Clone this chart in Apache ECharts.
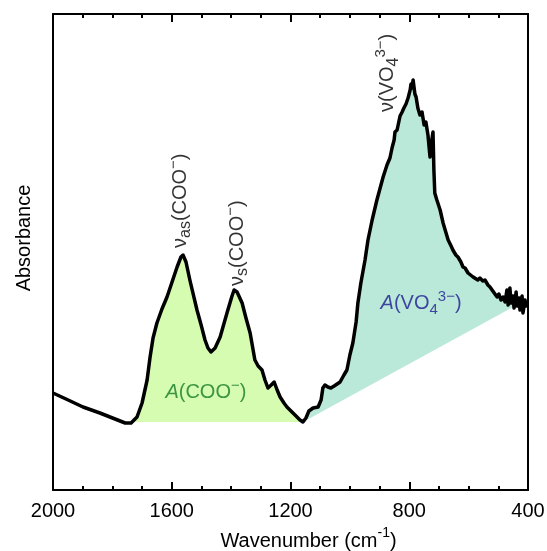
<!DOCTYPE html>
<html><head><meta charset="utf-8">
<script src="https://cdn.jsdelivr.net/npm/echarts@6/dist/echarts.min.js"></script>
<style>html,body{margin:0;padding:0;background:#fff}#c{width:547px;height:551px}</style>
</head><body><div id="c"></div>
<script>
// Spectrum (wavenumber in cm^-1, absorbance in arbitrary units)
const wavenumber = [2000,1949,1899,1842,1791,1757,1737,1717,1700,1683,1673,1663,1650,1633,1616,1599,1582,1569,1562,1552,1539,1515,1501,1488,1478,1468,1454,1437,1414,1397,1390,1380,1363,1350,1336,1320,1309,1296,1286,1276,1265,1255,1245,1235,1222,1212,1195,1178,1168,1158,1148,1138,1124,1107,1097,1091,1084,1074,1064,1053,1043,1033,1020,1010,1000,990,979,973,963,949,939,925,909,888,875,865,858,851,848,841,831,824,818,811,804,797,794,791,787,784,781,777,771,764,757,750,744,737,730,724,720,717,714,707,696,686,676,669,659,653,643,636,626,619,612,602,596,585,579,569,562,552,545,535,528,521,515,504,498,491,484,477,471,467,461,457,451,447,440,437,430,427,420,417,410,407,404];
const absorbance = [97,90,83,77,71,67,67,73,87,110,133,152,167,181,193,208,223,233,235,228,210,180,165,150,142,138,142,153,177,194,200,198,187,172,157,130,124,120,110,102,105,108,100,93,87,83,78,73,70,68,72,79,82,83,90,102,105,103,102,104,106,108,115,120,135,147,168,187,207,230,250,270,290,313,325,332,342,350,358,360,374,378,382,386,392,400,406,402,410,408,396,393,382,375,378,365,368,355,333,350,358,320,297,290,280,267,257,250,244,240,235,233,228,223,222,217,218,213,215,210,212,209,210,205,203,200,201,193,196,190,193,188,200,185,202,187,194,182,198,184,192,180,194,177,190,184,188];
const xTickLabels = [2000,1600,1200,800,400];
// integrated regions
const cooRange = [1158, 1737];
const cooBaseline = 68;
const vo4Range = [444, 1158];
const vo4BaseAtEnds = [184, 68]; // baseline value at vo4Range[0], vo4Range[1]
// annotations: [wavenumber, absorbance]
const labelVas = [1572, 242];
const labelVs = [1380, 204];
const labelVO4 = [873, 378];
const areaCOO = [1485, 98];
const areaVO4 = [760, 187];

const FONT = 'Liberation Sans, Arial, sans-serif';
const chart = echarts.init(document.getElementById('c'));

function vo4Base(w) {
  const t = (w - vo4Range[0]) / (vo4Range[1] - vo4Range[0]);
  return vo4BaseAtEnds[0] + t * (vo4BaseAtEnds[1] - vo4BaseAtEnds[0]);
}
function polygon(api, lo, hi, baseFn) {
  const pts = [];
  for (let i = 0; i < wavenumber.length; i++) {
    const w = wavenumber[i];
    if (w <= hi && w >= lo) pts.push(api.coord([w, Math.max(absorbance[i], baseFn(w))]));
  }
  pts.push(api.coord([lo, baseFn(lo)]));
  pts.push(api.coord([hi, baseFn(hi)]));
  return pts;
}

const richLabel = {
  n: {fontSize: 20, fontFamily: FONT, color: '#000', lineHeight: 28, verticalAlign: 'middle'},
  sub: {fontSize: 16, fontFamily: FONT, color: '#000', lineHeight: 16, verticalAlign: 'bottom'},
  sup: {fontSize: 15, fontFamily: FONT, color: '#000', lineHeight: 15, verticalAlign: 'top'}
};
function richColored(color) {
  return {
    i: {fontSize: 20, fontFamily: FONT, color: color, fontStyle: 'italic', lineHeight: 28, verticalAlign: 'middle'},
    n: {fontSize: 20, fontFamily: FONT, color: color, lineHeight: 28, verticalAlign: 'middle'},
    sub: {fontSize: 15, fontFamily: FONT, color: color, lineHeight: 15, verticalAlign: 'bottom'},
    sup: {fontSize: 15, fontFamily: FONT, color: color, lineHeight: 15, verticalAlign: 'top'}
  };
}

const tickStyle = {color: '#000', width: 2};
function xAxisDef(pos, showLabel) {
  return {
    type: 'value', position: pos, inverse: true, min: 400, max: 2000, interval: 400,
    axisLine: {show: true, onZero: false, lineStyle: {color: '#000', width: 2}},
    axisTick: {show: true, inside: true, length: 8, lineStyle: tickStyle},
    minorTick: {show: true, splitNumber: 4, length: 4, lineStyle: tickStyle},
    splitLine: {show: false}, minorSplitLine: {show: false},
    axisLabel: {show: showLabel, fontSize: 20, color: '#000', margin: 11, fontFamily: FONT,
      formatter: v => xTickLabels.includes(v) ? String(v) : ''}
  };
}
const xBottom = xAxisDef('bottom', true);
xBottom.name = '{n|Wavenumber (cm}{sup|-1}{n|)}';
xBottom.nameLocation = 'middle';
xBottom.nameGap = 34;
xBottom.nameTextStyle = {padding: [0, 0, 0, 36], rich: {
  n: {fontSize: 20, fontFamily: FONT, color: '#000', lineHeight: 26, verticalAlign: 'bottom'},
  sup: {fontSize: 14, fontFamily: FONT, color: '#000', lineHeight: 14, verticalAlign: 'top'}
}};
const xTop = xAxisDef('top', false);

function yAxisDef(pos) {
  return {
    type: 'value', position: pos, min: 0, max: 476,
    axisLine: {show: true, onZero: false, lineStyle: {color: '#000', width: 2}},
    axisTick: {show: false}, axisLabel: {show: false}, splitLine: {show: false}
  };
}
const yLeft = yAxisDef('left');
yLeft.name = 'Absorbance';
yLeft.nameLocation = 'middle';
yLeft.nameGap = 19;
yLeft.nameTextStyle = {fontSize: 20, fontFamily: FONT, color: '#000', padding: [0, 0, 0, 28]};
const yRight = yAxisDef('right');

function annot(pos, text, rotate, rich, align) {
  return {
    value: pos,
    label: {show: true, position: 'inside', formatter: text, rotate: rotate,
      align: align, verticalAlign: 'middle', rich: rich}
  };
}

chart.setOption({
  animation: false,
  grid: {left: 53, right: 19, top: 14, bottom: 61, containLabel: false, outerBoundsMode: 'none'},
  xAxis: [xBottom, xTop],
  yAxis: [yLeft, yRight],
  series: [
    {
      type: 'custom', xAxisIndex: 0, yAxisIndex: 0, clip: false, z: 1,
      data: [[cooRange[1], cooBaseline]],
      renderItem: (params, api) => ({
        type: 'polygon',
        shape: {points: polygon(api, cooRange[0], cooRange[1], () => cooBaseline)},
        style: {fill: '#d6fcb1'}
      })
    },
    {
      type: 'custom', xAxisIndex: 0, yAxisIndex: 0, clip: false, z: 1,
      data: [[vo4Range[1], vo4BaseAtEnds[1]]],
      renderItem: (params, api) => ({
        type: 'polygon',
        shape: {points: polygon(api, vo4Range[0], vo4Range[1], vo4Base)},
        style: {fill: '#bae8d9'}
      })
    },
    {
      type: 'line', xAxisIndex: 0, yAxisIndex: 0, z: 3,
      data: wavenumber.map((w, i) => [w, absorbance[i]]),
      showSymbol: false, symbol: 'none', smooth: false,
      lineStyle: {color: '#000', width: 3.5, join: 'round'}
    },
    {
      type: 'scatter', xAxisIndex: 0, yAxisIndex: 0, z: 4, symbolSize: 0, silent: true,
      data: [
        annot(labelVas, '{n|ν}{sub|as}{n|(COO}{sup|−}{n|)}', 90, richLabel, 'left'),
        annot(labelVs, '{n|ν}{sub|s}{n|(COO}{sup|−}{n|)}', 90, richLabel, 'left'),
        annot(labelVO4, '{n|ν(VO}{sub|4}{sup|3−}{n|)}', 90, richLabel, 'left'),
        annot(areaCOO, '{i|A}{n|(COO}{sup|−}{n|)}', 0, richColored('#157a24'), 'center'),
        annot(areaVO4, '{i|A}{n|(VO}{sub|4}{sup|3−}{n|)}', 0, richColored('#1c1c90'), 'center')
      ]
    }
  ]
});
</script>
</body></html>
